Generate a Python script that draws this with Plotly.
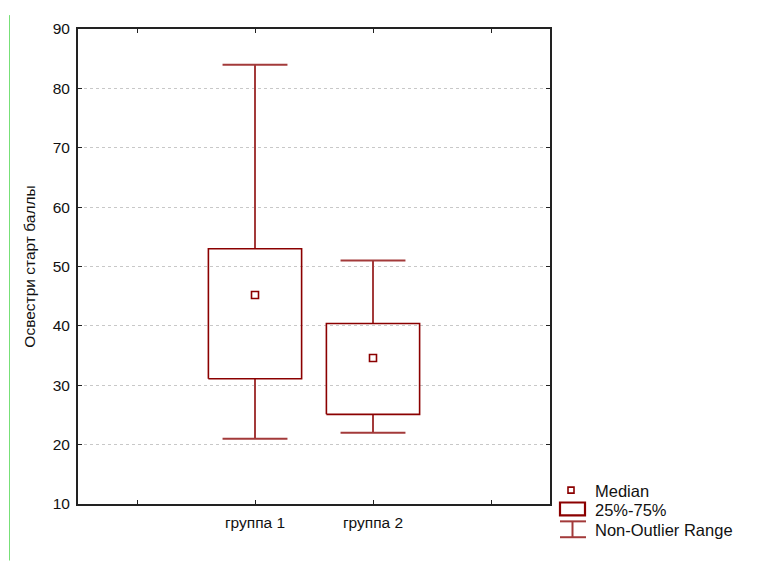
import plotly.graph_objects as go

# ---- data ----
groups = ["группа 1", "группа 2"]
q1 = [31.1, 25.1]
q3 = [53.0, 40.4]
medians = [45.2, 34.6]
whisk_low = [21.0, 22.0]
whisk_high = [84.0, 51.0]
y_ticks = [10, 20, 30, 40, 50, 60, 70, 80, 90]
y_title = "Освестри старт баллы"
legend_labels = ["Median", "25%-75%", "Non-Outlier Range"]

positions = [1, 2]
box_half = 0.395
cap_half = 0.275
BOX_C = "#8B0000"
WH_C = "#A33A3A"
FONT = "Liberation Sans, Arial, sans-serif"
FS = 15.5
FS_LEG = 16.5

fig = go.Figure()

for i, g in enumerate(groups):
    x = positions[i]
    fig.add_trace(go.Scatter(
        x=[x, x, None, x - cap_half, x + cap_half, None, x, x, None, x - cap_half, x + cap_half],
        y=[q3[i], whisk_high[i], None, whisk_high[i], whisk_high[i], None,
           q1[i], whisk_low[i], None, whisk_low[i], whisk_low[i]],
        mode="lines", line=dict(color=WH_C, width=2), showlegend=False, hoverinfo="skip"))
    fig.add_trace(go.Scatter(
        x=[x - box_half, x + box_half, x + box_half, x - box_half, x - box_half],
        y=[q1[i], q1[i], q3[i], q3[i], q1[i]],
        mode="lines", line=dict(color=BOX_C, width=1.6), showlegend=False, hoverinfo="skip"))
    fig.add_trace(go.Scatter(
        x=[x], y=[medians[i]], mode="markers",
        marker=dict(symbol="square-open", size=7, color=BOX_C, line=dict(width=1.6)),
        showlegend=False, hoverinfo="skip"))

axis_common = dict(showline=True, linecolor="#222222", linewidth=2, mirror="ticks",
                   ticks="inside", ticklen=4, tickcolor="#222222", zeroline=False,
                   tickfont=dict(family=FONT, size=FS, color="#111111"))

fig.update_xaxes(range=[-0.5, 3.5], tickvals=[0, 1, 2, 3], ticktext=["", groups[0], groups[1], ""],
                 showgrid=False, ticklabelstandoff=3, **axis_common)
fig.update_yaxes(range=[10, 90], tickvals=y_ticks, showgrid=True, gridcolor="#C8C8C8",
                 griddash="dot", gridwidth=1, ticklabelstandoff=3,
                 title=dict(text=y_title, font=dict(family=FONT, size=FS, color="#111111"), standoff=13),
                 **axis_common)

# ---- manual legend (window pixel layout -> paper coords; page has an 8px body offset) ----
OFF = 8
L, R, T, B = 78 - OFF, 550 - OFF, 25 - OFF, 504 - OFF
def px(xp):
    return (xp - OFF - L) / (R - L)
def py(yp):
    return (B - (yp - OFF)) / (B - T)

shapes = []
shapes.append(dict(type="rect", xref="paper", yref="paper", x0=px(568), x1=px(574), y0=py(493), y1=py(487),
                   line=dict(color=BOX_C, width=1.6)))
shapes.append(dict(type="rect", xref="paper", yref="paper", x0=px(560), x1=px(585), y0=py(515.5), y1=py(502.5),
                   line=dict(color=BOX_C, width=2.2)))
for (a, b, c, d) in [(560, 521.5, 586, 521.5), (572.5, 521.5, 572.5, 537.5), (560, 537.5, 586, 537.5)]:
    shapes.append(dict(type="line", xref="paper", yref="paper", x0=px(a), y0=py(b), x1=px(c), y1=py(d),
                       line=dict(color=WH_C, width=2)))
shapes.append(dict(type="line", xref="paper", yref="paper", x0=px(9.5), y0=py(11), x1=px(9.5), y1=py(561),
                   line=dict(color="#77E077", width=1)))

annotations = []
for lab, yc in zip(legend_labels, [490.5, 510.5, 530]):
    annotations.append(dict(text=lab, xref="paper", yref="paper", x=px(593), y=py(yc),
                            xanchor="left", yanchor="middle", showarrow=False,
                            font=dict(family=FONT, size=FS_LEG, color="#111111")))

fig.update_layout(width=767 - OFF, height=562 - OFF,
                  margin=dict(l=L, r=(767 - OFF) - R, t=T, b=(562 - OFF) - B),
                  plot_bgcolor="white", paper_bgcolor="white", showlegend=False,
                  shapes=shapes, annotations=annotations)

fig.write_html("out.html")
